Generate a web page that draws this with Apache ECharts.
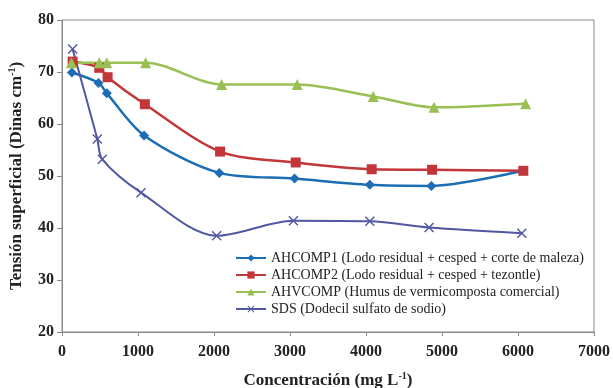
<!DOCTYPE html>
<html>
<head>
<meta charset="utf-8">
<script src="https://cdn.jsdelivr.net/npm/echarts@6/dist/echarts.min.js"></script>
<style>
  html, body { margin: 0; padding: 0; background: #fff; }
  #chart { width: 613px; height: 388px; }
</style>
</head>
<body>
<div id="chart"></div>
<script>
// Surface tension (Dinas cm-1) versus concentration (mg L-1)
var seriesNames = [
  'AHCOMP1 (Lodo residual + cesped + corte de maleza)',
  'AHCOMP2 (Lodo residual + cesped + tezontle)',
  'AHVCOMP (Humus de vermicomposta comercial)',
  'SDS (Dodecil sulfato de sodio)'
];

var concAHCOMP1 = [130, 480, 590, 1080, 2070, 3060, 4050, 4860, 6060];
var tensAHCOMP1 = [69.9, 67.9, 65.9, 57.8, 50.6, 49.5, 48.3, 48.1, 51.0];

var concAHCOMP2 = [140, 490, 600, 1090, 2080, 3075, 4075, 4870, 6070];
var tensAHCOMP2 = [72.0, 70.8, 69.0, 63.8, 54.7, 52.6, 51.3, 51.2, 51.0];

var concAHVCOMP = [125, 490, 590, 1100, 2100, 3095, 4095, 4895, 6100];
var tensAHVCOMP = [71.8, 71.8, 71.8, 71.8, 67.6, 67.6, 65.3, 63.2, 63.9];

var concSDS = [140, 465, 530, 1040, 2035, 3045, 4050, 4830, 6050];
var tensSDS = [74.4, 57.1, 53.2, 46.8, 38.5, 41.4, 41.3, 40.1, 39.0];

var xTicks = { min: 0, max: 7000, interval: 1000 };
var yTicks = { min: 20, max: 80, interval: 10 };

function pairs(xs, ys) {
  return xs.map(function (x, i) { return [x, ys[i]]; });
}

var serifFont = '"Liberation Serif", "Times New Roman", serif';
var crossSymbol = 'path://M0,1L1,0L5,4L9,0L10,1L6,5L10,9L9,10L5,6L1,10L0,9L4,5Z';

var nameRich = {
  b: { fontFamily: serifFont, fontSize: 17, fontWeight: 'bold', color: '#222' },
  s: { fontFamily: serifFont, fontSize: 10, fontWeight: 'bold', color: '#222', verticalAlign: 'top', padding: [0, 0, 9, 0] }
};

var chart = echarts.init(document.getElementById('chart'));
chart.setOption({
  animation: false,
  backgroundColor: '#ffffff',
  grid: {
    left: 62, right: 19, top: 20, bottom: 56,
    outerBoundsMode: 'none',
    show: true, borderColor: '#8a8a8a', borderWidth: 1
  },
  legend: {
    orient: 'vertical',
    left: 230, top: 246,
    itemWidth: 30, itemHeight: 9, itemGap: 3,
    textStyle: { fontFamily: serifFont, fontSize: 14, color: '#222' },
    data: seriesNames
  },
  xAxis: {
    type: 'value',
    min: xTicks.min, max: xTicks.max, interval: xTicks.interval,
    name: '{b|Concentración (mg L}{s|-1}{b|)}',
    nameLocation: 'middle', nameGap: 39,
    nameTextStyle: { rich: nameRich },
    axisLine: { lineStyle: { color: '#8a8a8a' } },
    axisTick: { show: true, length: 4, lineStyle: { color: '#8a8a8a' } },
    axisLabel: {
      fontFamily: serifFont, fontSize: 16, fontWeight: 'bold', color: '#222', margin: 12,
      formatter: function (v) { return String(v); }
    },
    splitLine: { show: false }
  },
  yAxis: {
    type: 'value',
    min: yTicks.min, max: yTicks.max, interval: yTicks.interval,
    name: '{b|Tensión superficial (Dinas cm}{s|-1}{b|)}',
    nameLocation: 'middle', nameGap: 36, nameRotate: 90,
    nameTextStyle: { rich: nameRich },
    axisLine: { show: true, lineStyle: { color: '#8a8a8a' } },
    axisTick: { show: true, length: 5, lineStyle: { color: '#8a8a8a' } },
    axisLabel: { fontFamily: serifFont, fontSize: 16, fontWeight: 'bold', color: '#222', margin: 8 },
    splitLine: { show: false }
  },
  series: [
    {
      name: seriesNames[0], type: 'line', smooth: 0.3,
      data: pairs(concAHCOMP1, tensAHCOMP1),
      symbol: 'diamond', symbolSize: 10,
      itemStyle: { color: '#1d6db5' },
      lineStyle: { color: '#1d6db5', width: 2.5 }
    },
    {
      name: seriesNames[1], type: 'line', smooth: 0.3,
      data: pairs(concAHCOMP2, tensAHCOMP2),
      symbol: 'rect', symbolSize: 10,
      itemStyle: { color: '#c2363a' },
      lineStyle: { color: '#c2363a', width: 2.5 }
    },
    {
      name: seriesNames[2], type: 'line', smooth: 0.3,
      data: pairs(concAHVCOMP, tensAHVCOMP),
      symbol: 'triangle', symbolSize: 11,
      itemStyle: { color: '#99bf55' },
      lineStyle: { color: '#99bf55', width: 2.5 }
    },
    {
      name: seriesNames[3], type: 'line', smooth: 0.3,
      data: pairs(concSDS, tensSDS),
      symbol: crossSymbol, symbolSize: 10,
      itemStyle: { color: '#5157a0' },
      lineStyle: { color: '#5157a0', width: 2 }
    }
  ]
});
</script>
</body>
</html>
